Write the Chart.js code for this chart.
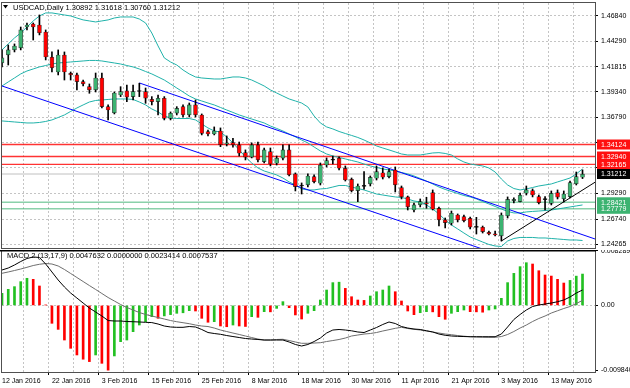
<!DOCTYPE html>
<html>
<head>
<meta charset="utf-8">
<script src="https://cdn.jsdelivr.net/npm/chart.js@4.4.0/dist/chart.umd.min.js"></script>
<style>
  html, body { margin: 0; padding: 0; background: #fff; overflow: hidden; }
  #wrap { position: relative; width: 630px; height: 388px; }
  #priceChart { position: absolute; left: 0; top: 0; }
  #macdChart { position: absolute; left: 0; top: 250px; }
</style>
</head>
<body>
<div id="wrap">
  <canvas id="priceChart" width="630" height="250"></canvas>
  <canvas id="macdChart" width="630" height="138"></canvas>
</div>
<script>
// USDCAD daily candles, 12 Jan 2016 - 20 May 2016
var symbolName = 'USDCAD,Daily';

var opens = [1.4217, 1.4296, 1.4346, 1.4365, 1.4572, 1.4602, 1.4592, 1.4523, 1.4276, 1.4128,
  1.4296, 1.4114, 1.4099, 1.4033, 1.3983, 1.3951, 1.4069, 1.3786, 1.3724, 1.3901,
  1.3941, 1.3885, 1.3936, 1.3934, 1.3859, 1.3835, 1.3869, 1.3671, 1.3721, 1.3786,
  1.3704, 1.3803, 1.3704, 1.3539, 1.3516, 1.3546, 1.3418, 1.3431, 1.3408, 1.3332,
  1.3287, 1.3408, 1.3243, 1.3342, 1.3227, 1.3277, 1.3359, 1.3122, 1.3003, 1.3013,
  1.3095, 1.3030, 1.3210, 1.3258, 1.3277, 1.3178, 1.3069, 1.2957, 1.3003, 1.3023,
  1.3079, 1.3134, 1.3095, 1.3161, 1.2988, 1.2895, 1.2766, 1.2816, 1.2838, 1.2937,
  1.2783, 1.2668, 1.2635, 1.2717, 1.2700, 1.2684, 1.2601, 1.2596, 1.2546, 1.2532,
  1.2510, 1.2707, 1.2858, 1.2848, 1.2931, 1.2957, 1.2898, 1.2875, 1.2832, 1.2937,
  1.2875, 1.2898, 1.3023, 1.30892];
var highs = [1.4346, 1.4395, 1.4405, 1.4572, 1.4612, 1.4612, 1.4691, 1.4543, 1.4326, 1.4346,
  1.4326, 1.4128, 1.4118, 1.4049, 1.4010, 1.4118, 1.4118, 1.3803, 1.3931, 1.3983,
  1.4000, 1.4000, 1.4017, 1.3970, 1.3885, 1.3901, 1.3885, 1.3734, 1.3786, 1.3803,
  1.3822, 1.3852, 1.3714, 1.3556, 1.3586, 1.3576, 1.3497, 1.3474, 1.3437, 1.3359,
  1.3428, 1.3437, 1.3378, 1.3378, 1.3299, 1.3408, 1.3408, 1.3132, 1.3033, 1.3122,
  1.3112, 1.3230, 1.3280, 1.3299, 1.3290, 1.3201, 1.3082, 1.3023, 1.3144, 1.3102,
  1.3201, 1.3181, 1.3171, 1.3191, 1.3003, 1.2904, 1.2835, 1.2875, 1.2892, 1.2964,
  1.2796, 1.2687, 1.2756, 1.2727, 1.2717, 1.2697, 1.2694, 1.2608, 1.2559, 1.2559,
  1.2737, 1.2895, 1.2885, 1.2934, 1.3003, 1.2974, 1.2914, 1.2898, 1.2954, 1.2964,
  1.2954, 1.3052, 1.3141, 1.31618];
var lows = [1.4178, 1.4197, 1.4326, 1.4346, 1.4543, 1.4444, 1.4494, 1.4247, 1.4128, 1.4099,
  1.4049, 1.4049, 1.3951, 1.3990, 1.3918, 1.3931, 1.3773, 1.3655, 1.3714, 1.3885,
  1.3835, 1.3852, 1.3885, 1.3819, 1.3803, 1.3704, 1.3655, 1.3655, 1.3704, 1.3684,
  1.3684, 1.3684, 1.3507, 1.3497, 1.3507, 1.3391, 1.3398, 1.3385, 1.3299, 1.3260,
  1.3280, 1.3240, 1.3230, 1.3201, 1.3210, 1.3260, 1.3102, 1.2954, 1.2924, 1.2993,
  1.3033, 1.3013, 1.3191, 1.3220, 1.3161, 1.3052, 1.2944, 1.2848, 1.2971, 1.3003,
  1.3062, 1.3072, 1.3082, 1.2944, 1.2875, 1.2766, 1.2747, 1.2796, 1.2783, 1.2766,
  1.2608, 1.2589, 1.2618, 1.2648, 1.2648, 1.2579, 1.2529, 1.2539, 1.2520, 1.2510,
  1.2460, 1.2687, 1.2835, 1.2845, 1.2914, 1.2895, 1.2826, 1.2766, 1.2816, 1.2875,
  1.2845, 1.2885, 1.3013, 1.30760];
var closes = [1.4267, 1.4346, 1.4385, 1.4543, 1.4592, 1.4572, 1.4513, 1.4276, 1.4168, 1.4296,
  1.4128, 1.4099, 1.4033, 1.4010, 1.3951, 1.4069, 1.3786, 1.3753, 1.3921, 1.3934,
  1.3879, 1.3934, 1.3938, 1.3869, 1.3835, 1.3869, 1.3671, 1.3721, 1.3770, 1.3704,
  1.3803, 1.3704, 1.3523, 1.3516, 1.3546, 1.3408, 1.3428, 1.3408, 1.3326, 1.3287,
  1.3408, 1.3260, 1.3359, 1.3220, 1.3277, 1.3359, 1.3112, 1.2996, 1.3008, 1.3102,
  1.3046, 1.3210, 1.3253, 1.3260, 1.3178, 1.3062, 1.2957, 1.3003, 1.2999, 1.3089,
  1.3144, 1.3089, 1.3144, 1.3013, 1.2895, 1.2796, 1.2816, 1.2848, 1.2826, 1.2773,
  1.2668, 1.2641, 1.2734, 1.2668, 1.2661, 1.2596, 1.2595, 1.2552, 1.2529, 1.2520,
  1.2717, 1.2872, 1.2872, 1.2914, 1.2964, 1.2914, 1.2838, 1.2868, 1.2931, 1.2892,
  1.2924, 1.3036, 1.3095, 1.31212];

// bollinger bands as drawn on the chart
var bbUpper = [1.4346, 1.4405, 1.4464, 1.4513, 1.4572, 1.4632, 1.4681, 1.4711, 1.4711, 1.4701,
  1.4691, 1.4681, 1.4661, 1.4642, 1.4632, 1.4622, 1.4632, 1.4642, 1.4661, 1.4671,
  1.4671, 1.4671, 1.4651, 1.4612, 1.4513, 1.4385, 1.4267, 1.4227, 1.4197, 1.4148,
  1.4109, 1.4079, 1.4069, 1.4064, 1.4059, 1.4059, 1.4069, 1.4079, 1.4079, 1.4069,
  1.4049, 1.4020, 1.3990, 1.3951, 1.3921, 1.3891, 1.3862, 1.3842, 1.3822, 1.3783,
  1.3694, 1.3625, 1.3586, 1.3566, 1.3541, 1.3521, 1.3502, 1.3482, 1.3457, 1.3428,
  1.3398, 1.3378, 1.3359, 1.3339, 1.3319, 1.3309, 1.3309, 1.3309, 1.3319, 1.3329,
  1.3332, 1.3324, 1.3309, 1.3270, 1.3240, 1.3220, 1.3210, 1.3201, 1.3181, 1.3141,
  1.3072, 1.3013, 1.2978, 1.2964, 1.2974, 1.2988, 1.3003, 1.3013, 1.3023, 1.3043,
  1.3062, 1.3082, 1.3122, 1.3171];
var bbMiddle = [1.3990, 1.4030, 1.4069, 1.4109, 1.4138, 1.4158, 1.4178, 1.4192, 1.4207, 1.4217,
  1.4222, 1.4227, 1.4232, 1.4237, 1.4242, 1.4242, 1.4237, 1.4227, 1.4217, 1.4207,
  1.4192, 1.4178, 1.4158, 1.4133, 1.4109, 1.4079, 1.4049, 1.4010, 1.3970, 1.3931,
  1.3891, 1.3862, 1.3842, 1.3822, 1.3803, 1.3778, 1.3753, 1.3729, 1.3704, 1.3684,
  1.3664, 1.3645, 1.3625, 1.3595, 1.3571, 1.3546, 1.3516, 1.3487, 1.3457, 1.3428,
  1.3388, 1.3349, 1.3319, 1.3299, 1.3285, 1.3270, 1.3255, 1.3240, 1.3220, 1.3201,
  1.3186, 1.3171, 1.3161, 1.3151, 1.3136, 1.3122, 1.3102, 1.3077, 1.3052, 1.3023,
  1.2993, 1.2969, 1.2949, 1.2929, 1.2909, 1.2895, 1.2875, 1.2850, 1.2826, 1.2801,
  1.2776, 1.2752, 1.2737, 1.2737, 1.2747, 1.2752, 1.2756, 1.2761, 1.2766, 1.2776,
  1.2786, 1.2796, 1.2806, 1.2816];
var bbLower = [1.3645, 1.3640, 1.3635, 1.3630, 1.3625, 1.3625, 1.3630, 1.3640, 1.3655, 1.3679,
  1.3704, 1.3739, 1.3773, 1.3803, 1.3832, 1.3847, 1.3852, 1.3857, 1.3862, 1.3862,
  1.3862, 1.3857, 1.3832, 1.3803, 1.3763, 1.3734, 1.3694, 1.3674, 1.3669, 1.3669,
  1.3669, 1.3655, 1.3615, 1.3576, 1.3546, 1.3536, 1.3487, 1.3428, 1.3359, 1.3290,
  1.3230, 1.3181, 1.3151, 1.3132, 1.3112, 1.3082, 1.3043, 1.3013, 1.2974, 1.2964,
  1.2964, 1.2974, 1.2978, 1.2993, 1.3008, 1.3008, 1.2993, 1.2978, 1.2964, 1.2944,
  1.2924, 1.2914, 1.2904, 1.2895, 1.2890, 1.2875, 1.2855, 1.2845, 1.2816, 1.2776,
  1.2727, 1.2668, 1.2618, 1.2579, 1.2539, 1.2500, 1.2475, 1.2450, 1.2426, 1.2411,
  1.2406, 1.2460, 1.2485, 1.2495, 1.2495, 1.2495, 1.2490, 1.2490, 1.2485, 1.2480,
  1.2475, 1.2470, 1.2470, 1.2465];

var priceTicks = [1.24265, 1.26740, 1.29290, 1.31815, 1.34315, 1.36790, 1.39340, 1.41815, 1.44290, 1.46840];
var hiddenTicks = [1.31815, 1.34315];
var priceMin = 1.2391, priceMax = 1.4809;

var redLevels = [1.34124, 1.32940, 1.32165];
var greenLevels = [1.28421, 1.27779];

// trend lines: [bar index, price]
var upperChannel = [[22, 1.4020], [95, 1.2480]];
var lowerChannel = [[0, 1.3990], [95, 1.2004]];
var supportLine = [[80, 1.2460], [95, 1.3040]];

// MACD 2 (13,17,9)
var macdName = 'MACD 2 (13,17,9)';
var macdHist = [0.00183, 0.00244, 0.00285, 0.00361, 0.00412, 0.00396, 0.00295, 0.00006, -0.00272, -0.00364,
  -0.00526, -0.00652, -0.00753, -0.00818, -0.00854, -0.00753, -0.00880, -0.00984, -0.00768, -0.00551,
  -0.00526, -0.00399, -0.00298, -0.00247, -0.00171, -0.00196, -0.00160, -0.00140, -0.00120, -0.00112,
  -0.00080, -0.00085, -0.00196, -0.00256, -0.00247, -0.00313, -0.00324, -0.00298, -0.00313, -0.00320,
  -0.00171, -0.00181, -0.00095, -0.00098, -0.00045, 0.00057, -0.00034, -0.00145, -0.00207, -0.00120,
  -0.00080, 0.00082, 0.00234, 0.00346, 0.00353, 0.00259, 0.00132, 0.00082, 0.00076, 0.00143,
  0.00208, 0.00234, 0.00295, 0.00208, 0.00067, -0.00085, -0.00141, -0.00111, -0.00095, -0.00098,
  -0.00171, -0.00211, -0.00120, -0.00095, -0.00070, -0.00095, -0.00098, -0.00103, -0.00070, -0.00054,
  0.00108, 0.00346, 0.00487, 0.00589, 0.00649, 0.00629, 0.00527, 0.00462, 0.00446, 0.00396,
  0.00340, 0.00380, 0.00445, 0.0047632];
var macdMain = [0.00538, 0.00568, 0.00614, 0.00667, 0.00713, 0.00736, 0.00728, 0.00629, 0.00508, 0.00386,
  0.00280, 0.00188, 0.00112, 0.00036, -0.00040, -0.00100, -0.00161, -0.00230, -0.00237, -0.00237,
  -0.00245, -0.00248, -0.00252, -0.00257, -0.00261, -0.00283, -0.00313, -0.00328, -0.00333, -0.00333,
  -0.00321, -0.00328, -0.00366, -0.00412, -0.00427, -0.00439, -0.00458, -0.00473, -0.00488, -0.00503,
  -0.00511, -0.00518, -0.00526, -0.00526, -0.00526, -0.00526, -0.00556, -0.00594, -0.00617, -0.00594,
  -0.00549, -0.00496, -0.00420, -0.00374, -0.00366, -0.00374, -0.00386, -0.00404, -0.00412, -0.00374,
  -0.00336, -0.00290, -0.00252, -0.00275, -0.00321, -0.00344, -0.00359, -0.00366, -0.00385, -0.00404,
  -0.00435, -0.00454, -0.00465, -0.00470, -0.00473, -0.00476, -0.00476, -0.00476, -0.00476, -0.00476,
  -0.00435, -0.00328, -0.00214, -0.00138, -0.00070, -0.00017, 0.00006, 0.00021, 0.00036, 0.00056,
  0.00082, 0.00128, 0.00188, 0.0023414];
var macdSignal = [0.00488, 0.00508, 0.00530, 0.00553, 0.00579, 0.00606, 0.00625, 0.00637, 0.00629, 0.00599,
  0.00546, 0.00485, 0.00424, 0.00363, 0.00302, 0.00242, 0.00181, 0.00120, 0.00067, 0.00014,
  -0.00032, -0.00070, -0.00108, -0.00138, -0.00161, -0.00184, -0.00207, -0.00230, -0.00248, -0.00263,
  -0.00278, -0.00298, -0.00313, -0.00321, -0.00344, -0.00374, -0.00397, -0.00420, -0.00442, -0.00465,
  -0.00488, -0.00511, -0.00526, -0.00526, -0.00518, -0.00515, -0.00534, -0.00556, -0.00576, -0.00576,
  -0.00572, -0.00567, -0.00549, -0.00534, -0.00518, -0.00496, -0.00465, -0.00450, -0.00435, -0.00427,
  -0.00412, -0.00389, -0.00369, -0.00348, -0.00333, -0.00351, -0.00363, -0.00374, -0.00389, -0.00404,
  -0.00420, -0.00435, -0.00445, -0.00458, -0.00468, -0.00476, -0.00480, -0.00483, -0.00485, -0.00485,
  -0.00473, -0.00442, -0.00397, -0.00344, -0.00298, -0.00245, -0.00199, -0.00161, -0.00116, -0.00081,
  -0.00047, -0.00017, 0.00029, 0.0007537];
var macdTicks = [-0.00984, 0, 0.008289];
var macdMin = -0.01012, macdMax = 0.00842;

// trading day labels (two empty days after the last bar)
var months = ['Jan', 'Feb', 'Mar', 'Apr', 'May', 'Jun', 'Jul', 'Aug', 'Sep', 'Oct', 'Nov', 'Dec'];
var labels = [];
var d = new Date(2016, 0, 12);
while (labels.length < closes.length + 2) {
  if (d.getDay() !== 0 && d.getDay() !== 6) {
    labels.push(d.getDate() + ' ' + months[d.getMonth()] + ' ' + d.getFullYear());
  }
  d.setDate(d.getDate() + 1);
}

var FONT = 'Liberation Sans, Arial, sans-serif';
var GRID = '#c4c4c4';
var BULL = '#3cb371', BEAR = '#ff0000';

function segment(pts) {
  return pts.map(function (p) { return { x: labels[p[0]], y: p[1] }; });
}
function bandSet(data) {
  return { type: 'line', data: data, borderColor: '#20b2aa', borderWidth: 1, pointRadius: 0, tension: 0, order: 3 };
}
function lineSet(pts, color) {
  return { type: 'line', data: segment(pts), borderColor: color, borderWidth: 1, pointRadius: 0, tension: 0, order: 2 };
}

var frame = {
  id: 'frame',
  afterDraw: function (chart) {
    var a = chart.chartArea, c = chart.ctx;
    c.save();
    c.strokeStyle = '#505050';
    c.lineWidth = 1;
    c.strokeRect(a.left - 0.5, a.top - 0.5, a.right - a.left + 1, a.bottom - a.top + 1);
    c.restore();
  }
};

// horizontal levels behind the candles
var levels = {
  id: 'levels',
  beforeDatasetsDraw: function (chart) {
    var y = chart.scales.y, a = chart.chartArea, c = chart.ctx;
    function hline(v, color, w) {
      var py = y.getPixelForValue(v);
      c.strokeStyle = color;
      c.lineWidth = w;
      c.beginPath();
      c.moveTo(a.left, py);
      c.lineTo(a.right, py);
      c.stroke();
    }
    c.save();
    hline(closes[closes.length - 1], '#c0c0c0', 1);
    greenLevels.forEach(function (v) { hline(v, 'rgba(60,179,113,0.6)', 1.6); });
    redLevels.forEach(function (v) { hline(v, 'rgba(255,0,0,0.8)', 1.3); });
    c.restore();
  }
};

// price tags on the right axis and title
var tags = {
  id: 'tags',
  afterDraw: function (chart) {
    var y = chart.scales.y, a = chart.chartArea, c = chart.ctx;
    c.save();
    c.font = '7px ' + FONT;
    c.textBaseline = 'middle';
    function tag(v, bg) {
      var py = y.getPixelForValue(v);
      c.fillStyle = bg;
      c.fillRect(a.right + 2, py - 5, 33, 10);
    }
    function tagText(v) {
      c.fillStyle = '#fff';
      c.fillText(v.toFixed(5), a.right + 6, y.getPixelForValue(v) + 0.5);
    }
    redLevels.forEach(function (v) { tag(v, '#ff1010'); });
    greenLevels.forEach(function (v) { tag(v, '#3cb371'); });
    var last = closes[closes.length - 1];
    tag(last, '#000');
    redLevels.concat(greenLevels, [last]).forEach(tagText);

    // title
    var n = closes.length - 1;
    c.fillStyle = '#000';
    c.beginPath();
    c.moveTo(3, 5); c.lineTo(8, 5); c.lineTo(5.5, 8.5); c.closePath();
    c.fill();
    c.font = '7.5px ' + FONT;
    c.fillText(symbolName + ' ' + [opens[n], highs[n], lows[n], closes[n]].map(function (v) { return v.toFixed(5); }).join(' '), 13, 7.5);
    c.restore();
  }
};

var candleColors = closes.map(function (cl, i) {
  if (Math.abs(cl - opens[i]) < 0.0008) return '#000';
  return cl >= opens[i] ? BULL : BEAR;
});

new Chart(document.getElementById('priceChart'), {
  type: 'bar',
  data: {
    labels: labels,
    datasets: [
      bandSet(bbUpper),
      bandSet(bbMiddle),
      bandSet(bbLower),
      lineSet(upperChannel, '#0000ff'),
      lineSet(lowerChannel, '#0000ff'),
      lineSet(supportLine, '#000000'),
      {
        data: lows.map(function (l, i) { return [l, highs[i]]; }),
        backgroundColor: '#000', barThickness: 1, grouped: false, order: 1
      },
      {
        data: opens.map(function (o, i) { return [o, closes[i]]; }),
        backgroundColor: candleColors, borderColor: 'rgba(0,0,0,0.7)', borderWidth: 0.7,
        borderSkipped: false, barThickness: 4, minBarLength: 1, grouped: false, order: 0
      }
    ]
  },
  options: {
    responsive: false, animation: false, devicePixelRatio: 1, events: [],
    layout: { padding: { left: 2, top: 3, right: 0, bottom: 2 } },
    plugins: { legend: { display: false }, tooltip: { enabled: false } },
    scales: {
      x: {
        offset: false,
        ticks: { display: false, autoSkip: false },
        grid: {
          drawTicks: false,
          color: function (ctx) { return ctx.index % 4 === 0 && ctx.index > 0 ? GRID : 'rgba(0,0,0,0)'; }
        },
        border: { display: false, dash: [2, 2] },
        afterFit: function (s) { s.height = 0; s.paddingLeft = 0; s.paddingRight = 0; }
      },
      y: {
        position: 'right', min: priceMin, max: priceMax,
        afterBuildTicks: function (s) { s.ticks = priceTicks.map(function (v) { return { value: v }; }); },
        ticks: {
          padding: 3, color: '#000', font: { family: FONT, size: 7 },
          callback: function (v) { return hiddenTicks.indexOf(v) >= 0 ? '' : v.toFixed(5); }
        },
        grid: { color: GRID, tickColor: '#000', tickLength: 3 },
        border: { display: false, dash: [2, 2] },
        afterFit: function (s) { s.width = 35; s.paddingTop = 0; s.paddingBottom = 0; }
      }
    }
  },
  plugins: [levels, tags, frame]
});

var macdTitle = {
  id: 'macdTitle',
  afterDraw: function (chart) {
    var c = chart.ctx, n = macdHist.length - 1;
    var rising = macdHist[n] >= macdHist[n - 1];
    var up = rising ? macdHist[n] : 0, down = rising ? 0 : macdHist[n];
    c.save();
    c.fillStyle = '#000';
    c.font = '7.5px ' + FONT;
    c.textBaseline = 'middle';
    c.fillText(macdName + ' ' + [up, down, macdMain[n], macdSignal[n]].map(function (v) { return v.toFixed(7); }).join(' '), 7, 6);
    // panel separator
    c.fillStyle = '#000';
    c.fillRect(0, 0, chart.chartArea.right + 1, 1.5);
    c.restore();
  }
};

new Chart(document.getElementById('macdChart'), {
  type: 'bar',
  data: {
    labels: labels,
    datasets: [
      {
        data: macdHist,
        backgroundColor: macdHist.map(function (v, i) { return i === 0 || v >= macdHist[i - 1] ? '#22c022' : '#ff0000'; }),
        barThickness: 2, order: 2
      },
      { type: 'line', data: macdMain, borderColor: '#000', borderWidth: 1, pointRadius: 0, tension: 0, order: 0 },
      { type: 'line', data: macdSignal, borderColor: '#6e6e6e', borderWidth: 1, pointRadius: 0, tension: 0, order: 1 }
    ]
  },
  options: {
    responsive: false, animation: false, devicePixelRatio: 1, events: [],
    layout: { padding: { left: 2, top: 0, right: 0, bottom: 0 } },
    plugins: { legend: { display: false }, tooltip: { enabled: false } },
    scales: {
      x: {
        offset: false,
        ticks: {
          autoSkip: false, maxRotation: 0, minRotation: 0, align: 'start', padding: 2,
          color: '#000', font: { family: FONT, size: 7 },
          callback: function (v, i) { return i % 8 === 0 && i < closes.length ? labels[i] : ''; }
        },
        grid: {
          tickLength: 3,
          color: function (ctx) { return ctx.index % 4 === 0 && ctx.index > 0 ? GRID : 'rgba(0,0,0,0)'; },
          tickColor: function (ctx) { return ctx.index % 8 === 0 ? '#000' : 'rgba(0,0,0,0)'; }
        },
        border: { display: false, dash: [2, 2] },
        afterFit: function (s) { s.height = 16; s.paddingLeft = 0; s.paddingRight = 0; }
      },
      y: {
        position: 'right', min: macdMin, max: macdMax,
        afterBuildTicks: function (s) { s.ticks = macdTicks.map(function (v) { return { value: v }; }); },
        ticks: {
          padding: 3, color: '#000', font: { family: FONT, size: 7 },
          callback: function (v) { return v === 0 ? '0.00' : v.toFixed(6); }
        },
        grid: {
          color: function (ctx) { return ctx.tick && ctx.tick.value === 0 ? GRID : 'rgba(0,0,0,0)'; },
          tickColor: '#000', tickLength: 3
        },
        border: { display: false, dash: [2, 2] },
        afterFit: function (s) { s.width = 35; s.paddingTop = 0; s.paddingBottom = 0; }
      }
    }
  },
  plugins: [frame, macdTitle]
});
</script>
</body>
</html>
